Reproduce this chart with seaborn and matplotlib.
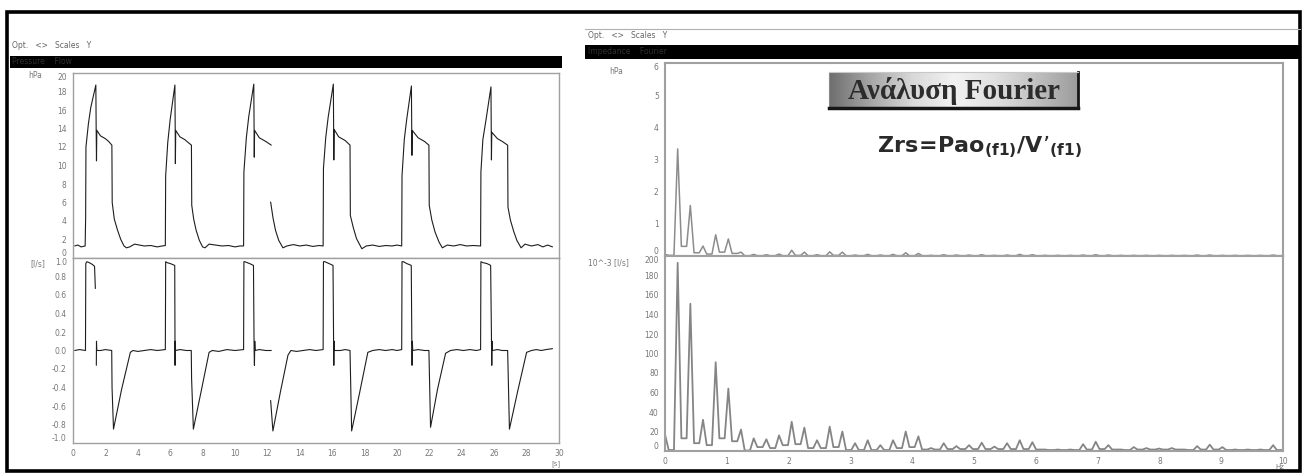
import numpy as np
import pandas as pd
import matplotlib.pyplot as plt
import seaborn as sns
from matplotlib.colors import LinearSegmentedColormap
from matplotlib.patches import Rectangle

# ---------------- data ----------------
# airway pressure (hPa) vs time (s); the trace has a gap near 12 s
pres_t1 = [0.1, 0.3, 0.5, 0.75, 0.78, 0.8, 0.95, 1.1, 1.41, 1.43, 1.45, 1.47, 1.7, 2.0, 2.2, 2.4,
           2.42, 2.55, 2.75, 2.95, 3.15, 3.3, 3.5, 3.8, 4.1, 4.4, 4.8, 5.2, 5.5, 5.70,
           5.72, 5.85, 6.0, 6.29, 6.31, 6.32, 6.34, 6.6, 6.9, 7.1, 7.31, 7.33, 7.45, 7.6, 7.8, 8.0,
           8.15, 8.4, 8.8, 9.2, 9.6, 10.0, 10.3, 10.53,
           10.55, 10.7, 10.85, 11.16, 11.18, 11.19, 11.21, 11.5, 11.9, 12.24]
pres_p1 = [1.3, 1.4, 1.2, 1.3, 4.4, 12.0, 14.5, 16.3, 18.7, 14.0, 10.5, 13.8, 13.2, 12.9, 12.6, 12.2,
           6.0, 4.2, 3.0, 2.0, 1.3, 1.1, 1.2, 1.5, 1.4, 1.3, 1.35, 1.2, 1.3, 1.35,
           8.9, 12.5, 15.0, 18.7, 13.6, 10.2, 13.8, 13.1, 12.8, 12.5, 12.2, 5.7, 4.2, 3.0, 1.9, 1.2,
           1.1, 1.5, 1.4, 1.3, 1.35, 1.2, 1.3, 1.3,
           9.3, 13.0, 15.3, 18.8, 13.5, 10.9, 13.8, 13.0, 12.6, 12.2]
pres_t2 = [12.2, 12.35, 12.5, 12.7, 12.96, 13.2, 13.6, 14.0, 14.4, 14.8, 15.2, 15.44,
           15.46, 15.6, 15.75, 16.07, 16.09, 16.1, 16.12, 16.4, 16.8, 17.1, 17.12, 17.3, 17.5, 17.83,
           18.1, 18.5, 18.9, 19.3, 19.7, 20.0, 20.29,
           20.31, 20.45, 20.6, 20.89, 20.91, 20.92, 20.94, 21.3, 21.7, 21.97, 21.99, 22.15, 22.35,
           22.6, 22.8, 23.1, 23.5, 23.9, 24.3, 24.7, 25.16,
           25.18, 25.3, 25.5, 25.80, 25.82, 25.83, 25.85, 26.2, 26.5, 26.83, 26.85, 27.0, 27.2,
           27.4, 27.66, 27.9, 28.3, 28.7, 29.0, 29.3, 29.6]
pres_p2 = [6.05, 4.3, 3.0, 1.9, 1.1, 1.3, 1.45, 1.3, 1.4, 1.25, 1.35, 1.3,
           9.7, 13.0, 15.2, 18.8, 13.6, 10.6, 13.9, 13.1, 12.7, 12.2, 4.6, 3.3, 2.1, 1.0,
           1.3, 1.4, 1.25, 1.35, 1.3, 1.4, 1.3,
           8.9, 12.8, 15.0, 18.6, 13.7, 11.1, 13.8, 13.0, 12.6, 12.2, 5.7, 4.1, 2.8,
           1.7, 1.1, 1.4, 1.3, 1.45, 1.3, 1.35, 1.3,
           9.3, 12.8, 15.0, 18.5, 13.3, 10.6, 13.6, 12.9, 12.6, 12.2, 5.5, 4.1, 2.9,
           1.9, 1.1, 1.5, 1.3, 1.45, 1.2, 1.4, 1.2]

# flow (l/s) vs time (s); gaps near 1.4 s and 12 s
flow_t1 = [0.1, 0.4, 0.77, 0.79, 0.85, 1.0, 1.2, 1.33, 1.38]
flow_q1 = [0.0, 0.01, 0.0, 0.94, 0.96, 0.95, 0.93, 0.91, 0.67]
flow_t2 = [1.44, 1.45, 1.47, 1.7, 2.0, 2.39, 2.41, 2.50, 3.0, 3.54, 3.7, 4.0, 4.4, 4.8, 5.2, 5.70,
           5.72, 5.8, 6.0, 6.28, 6.30, 6.31, 6.33, 6.6, 7.0, 7.30, 7.32, 7.43, 7.9, 8.4, 8.6, 9.0,
           9.5, 10.0, 10.53,
           10.55, 10.6, 10.9, 11.14, 11.18, 11.2, 11.22, 11.24, 11.5, 11.9, 12.24]
flow_q2 = [-0.16, 0.1, 0.0, 0.0, 0.01, 0.0, -0.4, -0.85, -0.42, -0.02, 0.0, -0.01, 0.0, 0.01, 0.0, 0.01,
           0.96, 0.95, 0.94, 0.92, -0.16, 0.1, 0.0, 0.01, 0.0, 0.0, -0.3, -0.85, -0.45, -0.02, 0.0, -0.01,
           0.01, 0.0, 0.01,
           0.96, 0.96, 0.94, 0.92, 0.0, -0.16, 0.1, 0.0, 0.01, 0.0, 0.0]
flow_t3 = [12.2, 12.34, 12.8, 13.27, 13.45, 13.8, 14.2, 14.6, 15.0, 15.44,
           15.46, 15.55, 15.8, 16.05, 16.09, 16.1, 16.12, 16.14, 16.5, 16.8, 17.10, 17.2, 17.7, 18.2,
           18.5, 18.9, 19.3, 19.7, 20.0, 20.29,
           20.31, 20.4, 20.6, 20.88, 20.92, 20.93, 20.95, 20.97, 21.3, 21.7, 21.97, 22.07, 22.5, 23.0,
           23.3, 23.7, 24.1, 24.5, 24.9, 25.16,
           25.18, 25.3, 25.55, 25.78, 25.84, 25.85, 25.87, 25.89, 26.2, 26.5, 26.83, 26.94, 27.45,
           28.0, 28.3, 28.6, 28.9, 29.2, 29.6]
flow_q3 = [-0.54, -0.87, -0.45, -0.05, 0.0, -0.01, 0.0, 0.01, 0.0, 0.01,
           0.96, 0.96, 0.94, 0.92, 0.0, -0.16, 0.1, 0.0, 0.0, 0.01, 0.0, -0.87, -0.45, -0.02,
           0.0, 0.01, 0.0, 0.01, 0.0, 0.01,
           0.96, 0.96, 0.94, 0.92, 0.0, -0.16, 0.1, 0.0, 0.01, 0.0, 0.0, -0.83, -0.42, -0.03,
           0.0, 0.01, 0.0, 0.01, 0.0, 0.01,
           0.96, 0.95, 0.94, 0.92, 0.0, -0.16, 0.1, 0.0, 0.01, 0.0, 0.0, -0.85, -0.44,
           -0.02, 0.0, 0.01, 0.0, 0.01, 0.02]
flow_ticks = [-1.0, -0.8, -0.6, -0.4, -0.2, 0.0, 0.2, 0.4, 0.6, 0.8, 1.0]
flow_ticklabels = ['-1.0', '-0.8', '-0.6', '-0.4', '-0.2', '0.0', '0.2', '0.4', '0.6', '0.8', '1.0']

# Fourier spectra: harmonic frequencies (Hz), peak heights and the valley after each peak
harm_f = [0.0, 0.205, 0.41, 0.615, 0.82, 1.025, 1.23, 1.435, 1.64, 1.845,
          2.05, 2.255, 2.46, 2.665, 2.87, 3.075, 3.28, 3.485, 3.69, 3.895,
          4.1, 4.305, 4.51, 4.715, 4.92, 5.125, 5.33, 5.535, 5.74, 5.945,
          6.15, 6.355, 6.56, 6.765, 6.97, 7.175, 7.38, 7.585, 7.79, 7.995,
          8.2, 8.405, 8.61, 8.815, 9.02, 9.225, 9.43, 9.635, 9.84]
pres_pk = [0.05, 3.33, 1.57, 0.31, 0.66, 0.53, 0.12, 0.05, 0.04, 0.06,
           0.18, 0.12, 0.04, 0.13, 0.12, 0.03, 0.05, 0.03, 0.05, 0.10,
           0.08, 0.02, 0.04, 0.03, 0.03, 0.04, 0.02, 0.03, 0.05, 0.04,
           0.02, 0.02, 0.02, 0.03, 0.04, 0.03, 0.02, 0.02, 0.02, 0.02,
           0.02, 0.02, 0.03, 0.03, 0.02, 0.02, 0.02, 0.02, 0.03]
pres_vl = [0.02, 0.3, 0.1, 0.06, 0.12, 0.08, 0.01, 0.01, 0.01, 0.01,
           0.02, 0.01, 0.01, 0.02, 0.01, 0.01, 0.01, 0.01, 0.01, 0.01,
           0.01, 0.01, 0.01, 0.01, 0.01, 0.01, 0.01, 0.01, 0.01, 0.01,
           0.01, 0.01, 0.01, 0.01, 0.01, 0.01, 0.01, 0.01, 0.01, 0.01,
           0.01, 0.01, 0.01, 0.01, 0.01, 0.01, 0.01, 0.01, 0.01]
flow_pk = [17, 193, 151, 32, 91, 64, 22, 13, 12, 16,
           30, 24, 11, 25, 20, 8, 11, 6, 11, 20,
           15, 3, 8, 5, 6, 8.5, 4.5, 8, 11, 9,
           1.5, 1.5, 1.5, 7, 9.5, 6, 1.5, 4, 3, 2.5,
           3, 1.5, 5, 6.5, 4, 1.5, 1.5, 1.5, 6]
flow_vl = [1, 13, 8, 6, 13, 10, 0.5, 4, 3, 6,
           7, 3, 3, 4, 1, 1, 1, 1, 3, 4,
           1.5, 1.5, 2, 2, 2, 2, 2, 2, 2, 1.5,
           1, 1, 1, 1.5, 2, 1.5, 1, 1.5, 1.5, 1.5,
           1.5, 1, 1.5, 1.5, 1, 1, 1, 1, 1]

# drawing style
peak_hw = 0.06          # half width of a drawn spectral peak (Hz)
W, H = 1305, 474

sns.set_style("white")
plt.rcParams['font.family'] = ['DejaVu Sans']
plt.rcParams['mathtext.fontset'] = 'dejavusans'

fig = plt.figure(figsize=(W / 100, H / 100), dpi=100)


def px(x0, y0, x1, y1):
    # pixel box measured from the top-left corner -> figure fraction rect
    return [x0 / W, 1 - y1 / H, (x1 - x0) / W, (y1 - y0) / H]


def spectrum(pk, vl):
    xs, ys = [], []
    for k, f in enumerate(harm_f):
        if k > 0:
            xs.append(f - peak_hw)
            ys.append(vl[k - 1])
        xs.append(f)
        ys.append(pk[k])
        xs.append(f + peak_hw)
        ys.append(vl[k])
    xs.append(10.0)
    ys.append(vl[-1])
    return pd.DataFrame({'f': xs, 'a': ys})


# frame of the screenshot and the window bars
fig.patches.append(Rectangle((7 / W, 1 - 471 / H), 1293 / W, 459 / H, transform=fig.transFigure,
                             fill=False, edgecolor='black', lw=2.6))
for box in [(10, 56, 562, 68), (585, 45, 1300, 59)]:
    r = px(*box)
    fig.patches.append(Rectangle((r[0], r[1]), r[2], r[3], transform=fig.transFigure,
                                 facecolor='black', edgecolor='none'))
fig.add_artist(plt.Line2D([585 / W, 1300 / W], [1 - 29 / H] * 2, color='#b0b0b0', lw=0.8))
fig.text(12 / W, 1 - 46 / H, 'Opt.   <>   Scales   Y', fontsize=5.5, color='#666', va='center')
fig.text(588 / W, 1 - 35 / H, 'Opt.   <>   Scales   Y', fontsize=5.5, color='#666', va='center')
fig.text(12 / W, 1 - 62 / H, 'Pressure    Flow', fontsize=5.5, color='#303030', va='center')
fig.text(588 / W, 1 - 52 / H, 'Impedance    Fourier', fontsize=5.5, color='#303030', va='center')

# axes
ax_p = fig.add_axes(px(73, 73, 559, 258))
ax_q = fig.add_axes(px(73, 258, 559, 443), sharex=ax_p)
ax_sp = fig.add_axes(px(665, 63, 1283, 256))
ax_sq = fig.add_axes(px(665, 256, 1283, 451), sharex=ax_sp)

pres = pd.concat([pd.DataFrame({'t': pres_t1, 'v': pres_p1, 'seg': 1}),
                  pd.DataFrame({'t': pres_t2, 'v': pres_p2, 'seg': 2})])
flow = pd.concat([pd.DataFrame({'t': flow_t1, 'v': flow_q1, 'seg': 1}),
                  pd.DataFrame({'t': flow_t2, 'v': flow_q2, 'seg': 2}),
                  pd.DataFrame({'t': flow_t3, 'v': flow_q3, 'seg': 3})])

sns.lineplot(data=pres, x='t', y='v', units='seg', estimator=None, sort=False,
             color='#1e1e1e', lw=0.8, ax=ax_p)
sns.lineplot(data=flow, x='t', y='v', units='seg', estimator=None, sort=False,
             color='#1e1e1e', lw=0.8, ax=ax_q)
sns.lineplot(data=spectrum(pres_pk, pres_vl), x='f', y='a', sort=False,
             color='#8c8c8c', lw=1.1, ax=ax_sp)
sns.lineplot(data=spectrum(flow_pk, flow_vl), x='f', y='a', sort=False,
             color='#858585', lw=1.3, ax=ax_sq)

ax_p.set_xlim(0, 30)
ax_p.set_ylim(0, 20)
ax_p.set_yticks(range(0, 21, 2))
ax_q.set_ylim(-1, 1)
ax_q.set_yticks(flow_ticks)
ax_q.set_yticklabels(flow_ticklabels)
ax_q.set_xticks(range(0, 31, 2))

ax_sp.set_xlim(0, 10)
ax_sp.set_ylim(0, 6)
ax_sp.set_yticks(range(0, 7))
ax_sq.set_ylim(0, 200)
ax_sq.set_yticks(range(0, 201, 20))
ax_sq.set_xticks(range(0, 11))

for ax in [ax_p, ax_q, ax_sp, ax_sq]:
    ax.set_xlabel('')
    ax.set_ylabel('')
    ax.tick_params(labelsize=5.5, colors='#777777', length=2.5, width=0.6, pad=2)
    for s in ax.spines.values():
        s.set_color('#a0a0a0')
        s.set_linewidth(1.0)
    # end labels are kept inside the plot height, as in the instrument software
    ticks = ax.yaxis.get_major_ticks()
    ticks[0].label1.set_verticalalignment('bottom')
    ticks[-1].label1.set_verticalalignment('top')
for ax in [ax_p, ax_sp]:
    ax.tick_params(axis='x', labelbottom=False, length=0)
for ax in [ax_sp, ax_sq]:
    for s in ax.spines.values():
        s.set_linewidth(1.5)

# units
fig.text(35 / W, 1 - 76 / H, 'hPa', fontsize=5.5, color='#777', ha='center', va='center')
fig.text(38 / W, 1 - 264 / H, '[l/s]', fontsize=5.5, color='#777', ha='center', va='center')
fig.text(616 / W, 1 - 71 / H, 'hPa', fontsize=5.5, color='#777', ha='center', va='center')
fig.text(608 / W, 1 - 263 / H, '10^-3 [l/s]', fontsize=5.5, color='#777', ha='center', va='center')
fig.text(556 / W, 1 - 464 / H, '[s]', fontsize=5, color='#777', ha='center', va='center')
fig.text(1280 / W, 1 - 467 / H, 'Hz', fontsize=5, color='#777', ha='center', va='center')

# title plate
metal = LinearSegmentedColormap.from_list(
    'metal', ['#6e6e6e', '#a6a6a6', '#d8d8d8', '#f2f2f2', '#e0e0e0', '#c0c0c0', '#9c9c9c'])
ax_b = fig.add_axes(px(829, 72, 1078, 108))
ax_b.imshow(np.linspace(0, 1, 256)[None, :], aspect='auto', cmap=metal, extent=(0, 1, 0, 1))
ax_b.set_xticks([])
ax_b.set_yticks([])
ax_b.spines['top'].set_color('#c8c8c8')
ax_b.spines['left'].set_color('#8a8a8a')
ax_b.spines['bottom'].set_color('#151515')
ax_b.spines['right'].set_color('#151515')
ax_b.spines['bottom'].set_linewidth(2.5)
ax_b.spines['right'].set_linewidth(2.0)
ax_b.text(0.5, 0.47, 'Ανάλυση Fourier', ha='center', va='center', family='Liberation Serif',
          weight='bold', fontsize=21, color='#2c2c2c')

fig.text(877 / W, 1 - 147 / H,
         r'$\mathbf{Zrs\!=\!Pao}_{\mathbf{(f1)}}\mathbf{/V’}_{\mathbf{(f1)}}$',
         ha='left', va='center', fontsize=16, color='#2a2a2a')

fig.savefig('out.png', dpi=100)
